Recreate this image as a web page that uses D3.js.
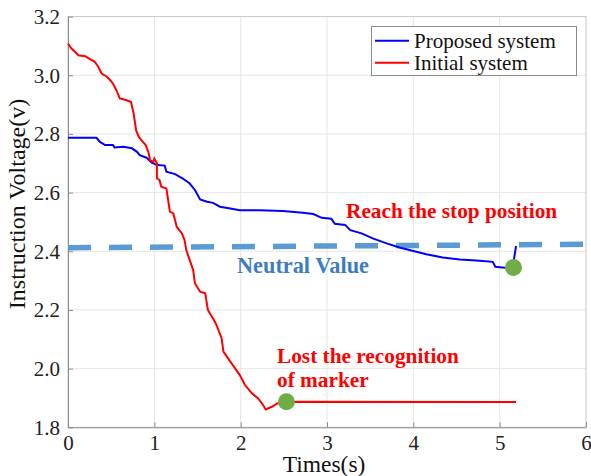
<!DOCTYPE html>
<html>
<head>
<meta charset="utf-8">
<script src="https://cdn.jsdelivr.net/npm/d3@7"></script>
<style>
  body { margin: 0; background: #fff; }
  svg { display: block; }
  svg text { font-family: "Liberation Serif", "Times New Roman", Tinos, "DejaVu Serif", serif; }
</style>
</head>
<body>
<svg width="591" height="476"></svg>
<script>
const xTicks = [0, 1, 2, 3, 4, 5, 6]
const yTicks = [1.8, 2.0, 2.2, 2.4, 2.6, 2.8, 3.0, 3.2]

const proposedX = [0, 0.33, 0.37, 0.43, 0.52, 0.54, 0.64, 0.74, 0.80, 0.83, 0.91, 0.97, 1.03, 1.12, 1.14, 1.24, 1.33, 1.41, 1.47, 1.53, 1.61, 1.68, 1.76, 1.88, 1.99, 2.22, 2.49, 2.72, 2.84, 2.94, 3.05, 3.09, 3.21, 3.27, 3.40, 3.53, 3.69, 3.84, 4.00, 4.15, 4.34, 4.54, 4.77, 4.92, 4.95, 5.06, 5.15, 5.17, 5.19]
const proposedY = [2.787, 2.787, 2.773, 2.762, 2.762, 2.754, 2.756, 2.751, 2.739, 2.728, 2.719, 2.702, 2.694, 2.692, 2.671, 2.663, 2.648, 2.631, 2.609, 2.577, 2.569, 2.565, 2.552, 2.546, 2.540, 2.540, 2.537, 2.531, 2.527, 2.514, 2.511, 2.494, 2.490, 2.472, 2.461, 2.444, 2.427, 2.413, 2.401, 2.390, 2.379, 2.372, 2.368, 2.364, 2.347, 2.344, 2.345, 2.381, 2.418]

const initialX = [0, 0.04, 0.08, 0.12, 0.20, 0.25, 0.31, 0.35, 0.39, 0.45, 0.49, 0.52, 0.56, 0.60, 0.68, 0.73, 0.76, 0.79, 0.82, 0.85, 0.90, 0.93, 0.95, 0.99, 1.00, 1.03, 1.03, 1.06, 1.08, 1.14, 1.18, 1.22, 1.26, 1.32, 1.35, 1.37, 1.41, 1.45, 1.47, 1.53, 1.59, 1.62, 1.68, 1.72, 1.78, 1.80, 1.88, 1.95, 1.99, 2.05, 2.13, 2.20, 2.26, 2.29, 2.36, 2.43, 2.53, 5.19]
const initialY = [3.108, 3.091, 3.080, 3.068, 3.065, 3.056, 3.046, 3.029, 3.006, 2.995, 2.983, 2.972, 2.949, 2.921, 2.915, 2.909, 2.870, 2.811, 2.790, 2.779, 2.762, 2.739, 2.711, 2.705, 2.716, 2.700, 2.648, 2.643, 2.620, 2.614, 2.535, 2.529, 2.483, 2.461, 2.438, 2.404, 2.370, 2.336, 2.291, 2.262, 2.257, 2.200, 2.171, 2.149, 2.103, 2.058, 2.024, 1.995, 1.978, 1.944, 1.916, 1.899, 1.876, 1.861, 1.870, 1.882, 1.887, 1.886]

const neutralX = [0, 6.06]
const neutralY = [2.412, 2.424]

const markerX = [2.53, 5.16]
const markerY = [1.887, 2.345]

const serif = '"Liberation Serif", "Times New Roman", Tinos, "DejaVu Serif", serif'

let svg = d3.select('svg').attr('font-family', serif)

const x = d3.scaleLinear().domain([0, 6]).range([68, 586])
const y = d3.scaleLinear().domain([1.8, 3.2]).range([427.3, 16.6])

// grid
svg.append('g')
  .selectAll('line')
  .data(xTicks.slice(1, -1))
  .enter()
  .append('line')
  .attr('x1', d => x(d)).attr('x2', d => x(d))
  .attr('y1', y(1.8)).attr('y2', y(3.2))
  .attr('stroke', '#e6e6e6')
svg.append('g')
  .selectAll('line')
  .data(yTicks.slice(1, -1))
  .enter()
  .append('line')
  .attr('y1', d => y(d)).attr('y2', d => y(d))
  .attr('x1', x(0)).attr('x2', x(6))
  .attr('stroke', '#e6e6e6')

// box
svg.append('rect')
  .attr('x', x(0)).attr('y', y(3.2))
  .attr('width', x(6) - x(0)).attr('height', y(1.8) - y(3.2))
  .attr('fill', 'none').attr('stroke', '#c8c8c8')

// axes
const xAxis = d3.axisBottom(x).tickValues(xTicks).tickFormat(d3.format('d')).tickSizeInner(-5).tickSizeOuter(0).tickPadding(8)
const yAxis = d3.axisLeft(y).tickValues(yTicks).tickFormat(d3.format('.1f')).tickSizeInner(-5).tickSizeOuter(0).tickPadding(8)

const gx = svg.append('g').attr('transform', `translate(0,${y(1.8)})`).call(xAxis)
const gy = svg.append('g').attr('transform', `translate(${x(0)},0)`).call(yAxis)
;[gx, gy].forEach(g => {
  g.attr('font-family', serif).attr('font-size', 21)
  g.select('.domain').attr('stroke', '#8c8c8c')
  g.selectAll('.tick line').attr('stroke', '#8c8c8c')
  g.selectAll('.tick text').attr('fill', '#222')
})

// neutral dashed line
const lineFrom = (xs, ys) => d3.line().x((d, i) => x(xs[i])).y((d, i) => y(ys[i]))(xs)

svg.append('path')
  .attr('d', lineFrom(neutralX, neutralY))
  .attr('stroke', '#5b9bd5')
  .attr('stroke-width', 5.5)
  .attr('stroke-dasharray', '23,18')
  .attr('fill', 'none')

svg.append('path')
  .attr('d', lineFrom(proposedX, proposedY))
  .attr('stroke', '#0000ff')
  .attr('stroke-width', 2)
  .attr('fill', 'none')

svg.append('path')
  .attr('d', lineFrom(initialX, initialY))
  .attr('stroke', '#ff0000')
  .attr('stroke-width', 2)
  .attr('fill', 'none')

svg.append('g')
  .selectAll('circle')
  .data(markerX)
  .enter()
  .append('circle')
  .attr('cx', d => x(d))
  .attr('cy', (d, i) => y(markerY[i]))
  .attr('r', 8.5)
  .attr('fill', '#70ad47')

// annotations
const note = (tx, ty, text, color, size) =>
  svg.append('text')
    .attr('x', tx).attr('y', ty)
    .attr('fill', color)
    .attr('font-weight', 'bold')
    .attr('font-size', size)
    .text(text)

note(346, 218, 'Reach the stop position', '#ff0000', 21.3)
note(237, 273, 'Neutral Value', '#3d7cc0', 22.3)
note(277, 362.5, 'Lost the recognition', '#ff0000', 21.3)
note(277, 387, 'of marker', '#ff0000', 21.3)

// axis titles
svg.append('text')
  .attr('x', 324).attr('y', 472)
  .attr('text-anchor', 'middle')
  .attr('font-size', 23.5)
  .attr('fill', '#111')
  .text('Times(s)')

svg.append('text')
  .attr('transform', 'translate(25,204) rotate(-90)')
  .attr('text-anchor', 'middle')
  .attr('font-size', 24)
  .attr('fill', '#111')
  .text('Instruction Voltage(v)')

// legend
const legend = svg.append('g')
legend.append('rect')
  .attr('x', 371.5).attr('y', 26.5)
  .attr('width', 205).attr('height', 49)
  .attr('fill', '#fff').attr('stroke', '#8c8c8c')

const legendItems = [['Proposed system', '#0000ff'], ['Initial system', '#ff0000']]
legend.selectAll('g')
  .data(legendItems)
  .enter()
  .append('g')
  .attr('transform', (d, i) => `translate(0,${40.7 + i * 22})`)
  .each(function (d) {
    const g = d3.select(this)
    g.append('line').attr('x1', 375).attr('x2', 409).attr('stroke', d[1]).attr('stroke-width', 2)
    g.append('text').attr('x', 414).attr('y', 7).attr('font-size', 21).attr('fill', '#111').text(d[0])
  })
</script>
</body>
</html>
